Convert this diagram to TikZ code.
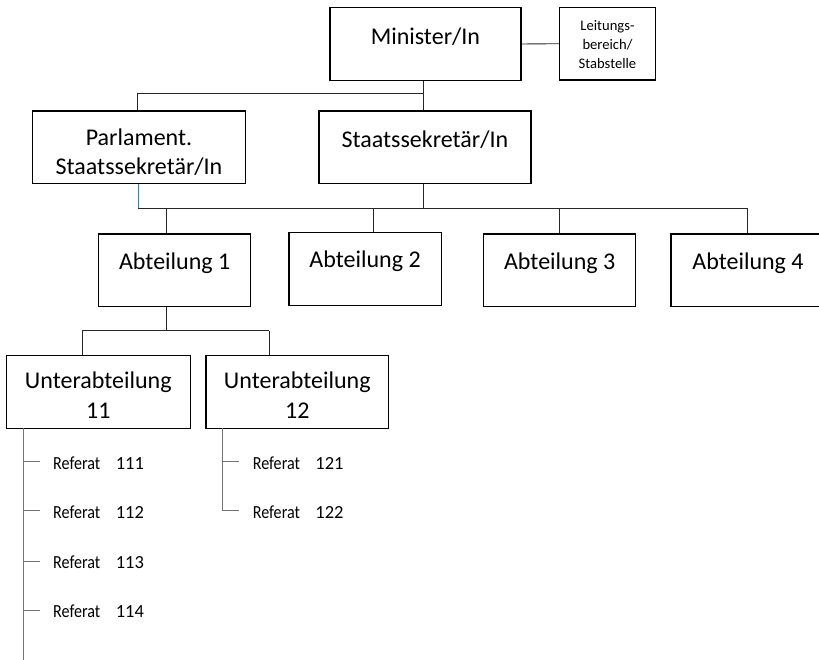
\documentclass[tikz,border=0pt]{standalone}
\usepackage{fontspec}
\usepackage{graphicx}
\setmainfont{Carlito}
\definecolor{lblue}{RGB}{68,114,196}
\newcommand{\refline}[1]{{\fontsize{18.5}{20}\selectfont\scalebox{0.87}[1]{Referat}\hspace{15.5pt}#1}}
\begin{document}
\begin{tikzpicture}[x=1pt,y=-1pt,
  box/.style={draw=black,line width=1.5pt,rectangle,inner sep=0pt,minimum height=72.8pt},
  big/.style={font=\fontsize{24}{29.5}\selectfont,align=center,inner sep=0pt,text=black},
  small/.style={font=\fontsize{14.6}{19}\selectfont,align=center,inner sep=0pt,text=black},
  ref/.style={anchor=base west,inner sep=0pt,text=black},
  conn/.style={draw=black!85,line width=0.9pt},
  gconn/.style={draw=black!55,line width=1pt},
  bconn/.style={draw=lblue,line width=0.9pt}]
\useasboundingbox (0,0) rectangle (819,660);
\clip (0,0) rectangle (819,660);

% boxes
\node[box,minimum width=190.8pt] (min) at (425.4,44) {};
\node[box,minimum width=96.4pt] (leit) at (607.5,43.7) {};
\node[box,minimum width=213.1pt] (parl) at (139,147.3) {};
\node[box,minimum width=211.7pt] (sts) at (424.9,147.3) {};
\node[box,minimum width=152pt] (a1) at (174.7,270.3) {};
\node[box,minimum width=152.6pt] (a2) at (365.1,269) {};
\node[box,minimum width=152pt] (a3) at (559.7,270.3) {};
\node[box,minimum width=152pt] (a4) at (747.2,270.3) {};
\node[box,minimum width=184pt] (u11) at (98.3,392) {};
\node[box,minimum width=182.7pt] (u12) at (297.3,392) {};

% texts
\node[big] (mint) at (425.4,36.7) {Minister/In};
\node[small] (leitt) at (607.5,45) {Leitungs-\\bereich/\\Stabstelle};
\node[big] (parlt) at (139,152) {Parlament.\\Staatssekretär/In};
\node[big] (stst) at (424.9,140) {Staatssekretär/In};
\node[big] (a1t) at (174.7,263.3) {Abteilung 1};
\node[big] (a2t) at (365.1,261.7) {Abteilung 2};
\node[big] (a3t) at (559.7,263.3) {Abteilung 3};
\node[big] (a4t) at (748,263.3) {Abteilung 4};
\node[big] (u11t) at (98.3,395) {Unterabteilung\\11};
\node[big] (u12t) at (297.3,395) {Unterabteilung\\12};

% junction coordinates
\coordinate (j1) at (423,93.3);
\coordinate (j1l) at (137,93.3);
\coordinate (j2) at (423,208.3);
\coordinate (j2l) at (138.3,208.3);
\coordinate (j2r) at (747.5,208.3);
\coordinate (ja1) at (166.5,208.3);
\coordinate (ja2) at (373,208.3);
\coordinate (ja3) at (559.4,208.3);
\coordinate (j3) at (166.3,330.7);
\coordinate (j3l) at (82.3,330.7);
\coordinate (j3r) at (269,330.7);
\coordinate (v11) at (23,428.3);
\coordinate (v11e) at (23,662);
\coordinate (v12) at (222.7,428.3);
\coordinate (v12e) at (222.7,510.7);

% connectors top
\draw[conn] (min.east) -- (leit.west);
\draw[conn] (j1 |- min.south) -- (j1);
\draw[conn] (j1l) -- (j1);
\draw[conn] (j1l) -- (j1l |- parl.north);
\draw[conn] (j1) -- (j1 |- sts.north);
\draw[conn] (j2 |- sts.south) -- (j2);
\draw[bconn] (j2l |- parl.south) -- (j2l);
\draw[conn] (j2l) -- (j2r);
\draw[conn] (ja1) -- (ja1 |- a1.north);
\draw[conn] (ja2) -- (ja2 |- a2.north);
\draw[conn] (ja3) -- (ja3 |- a3.north);
\draw[conn] (j2r) -- (j2r |- a4.north);
\draw[conn] (j3 |- a1.south) -- (j3);
\draw[conn] (j3l) -- (j3r);
\draw[conn] (j3l) -- (j3l |- u11.north);
\draw[conn] (j3r) -- (j3r |- u12.north);

% Referate
\node[ref] (r111) at (53,469) {\refline{111}};
\node[ref] (r112) at (53,518.5) {\refline{112}};
\node[ref] (r113) at (53,568.3) {\refline{113}};
\node[ref] (r114) at (53,617.7) {\refline{114}};
\node[ref] (r121) at (252.7,469) {\refline{121}};
\node[ref] (r122) at (252.7,518.5) {\refline{122}};

\draw[gconn] (v11) -- (v11e);
\draw[gconn] (v12) -- (v12e) -- ++(16.3,0);
\foreach \y in {461,510.7,561,610.3}
  \draw[gconn] (23,\y) -- (40,\y);
\draw[gconn] (222.7,461) -- (239,461);
\end{tikzpicture}
\end{document}
